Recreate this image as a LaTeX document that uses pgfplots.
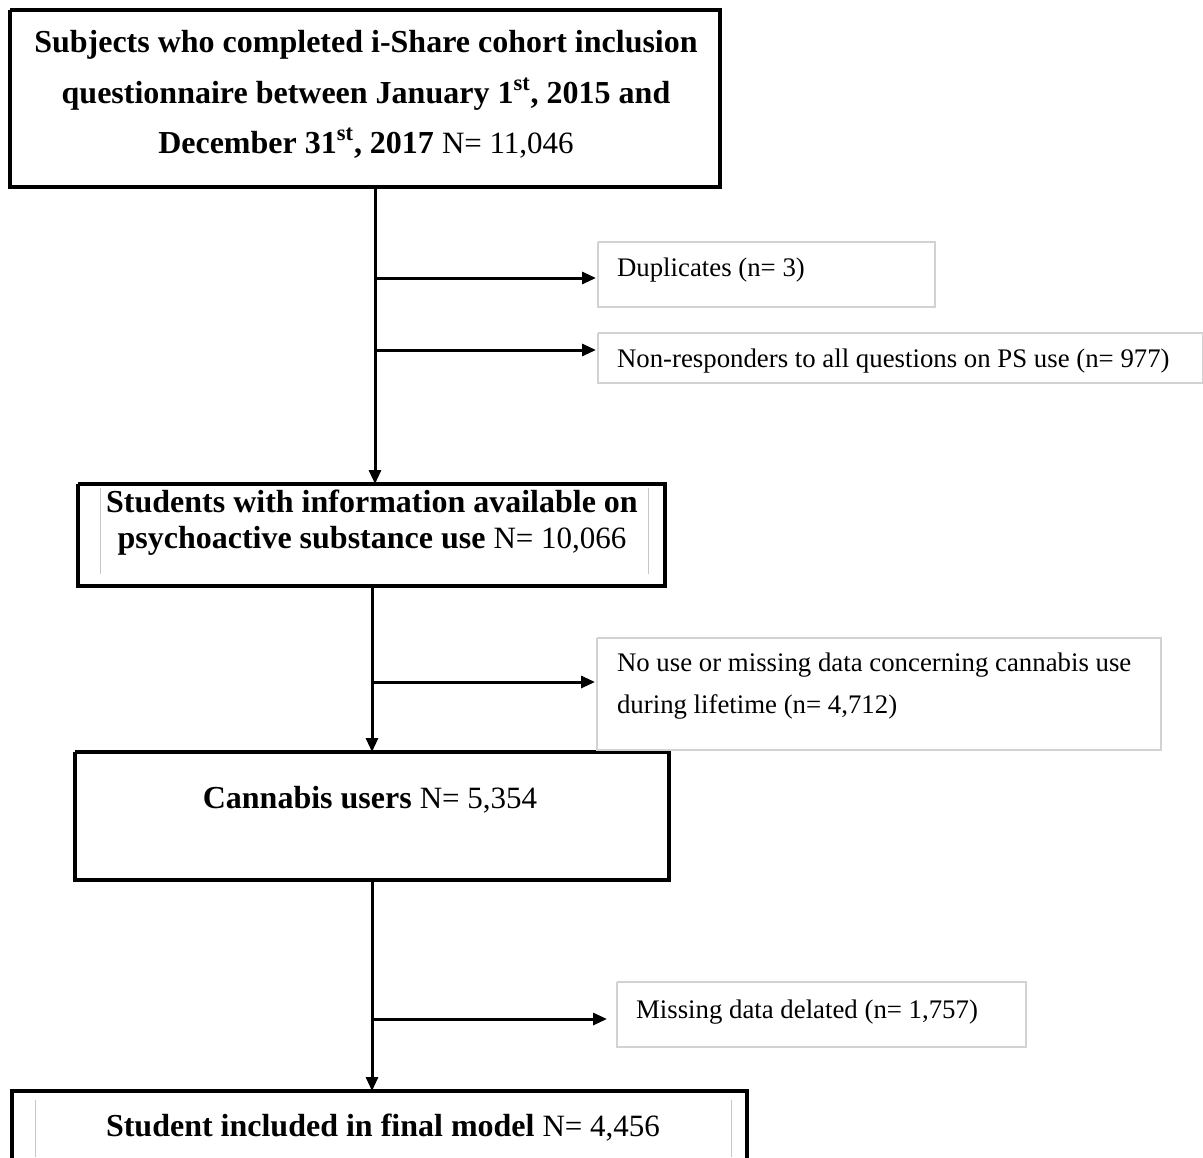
\documentclass[border=0pt]{standalone}
\usepackage{pgfplots}
\pgfplotsset{compat=1.18}
\usetikzlibrary{arrows.meta}
\usepackage{fontspec}
\setmainfont{Liberation Serif}

\newcommand{\bt}{\fontsize{16}{19}\selectfont\bfseries}
\newcommand{\nt}{\fontsize{15.5}{19}\selectfont\mdseries}
\newcommand{\st}{\fontsize{13.4}{16}\selectfont}

\begin{document}
\begin{tikzpicture}
\begin{axis}[
    name=ax,
    width=601.5pt, height=578.5pt,
    scale only axis,
    xmin=0, xmax=1203,
    ymin=0, ymax=1157,
    y dir=reverse,
    axis lines=none,
    clip=false,
    ticks=none,
]
% main boxes (thick)
\addplot[black, line width=2pt, line join=miter, mark=none] coordinates {(10,10) (720,10) (720,187) (10,187) (10,10)};
\addplot[black, line width=2pt, line join=miter, mark=none] coordinates {(78,484) (665,484) (665,586) (78,586) (78,484)};
\addplot[black, line width=2pt, line join=miter, mark=none] coordinates {(75,752) (669,752) (669,880) (75,880) (75,752)};
\addplot[black, line width=2pt, line join=miter, mark=none] coordinates {(12,1165) (12,1091) (747,1091) (747,1165)};

% inner thin lines
\addplot[gray!45, line width=0.5pt, mark=none] coordinates {(100,488) (100,574)};
\addplot[gray!45, line width=0.5pt, mark=none] coordinates {(648,488) (648,574)};
\addplot[gray!45, line width=0.5pt, mark=none] coordinates {(35,1100) (35,1157)};
\addplot[gray!45, line width=0.5pt, mark=none] coordinates {(731,1100) (731,1157)};

% side boxes (thin grey)
\addplot[gray!35, line width=0.6pt, mark=none] coordinates {(598,242) (935,242) (935,307) (598,307) (598,242)};
\addplot[gray!35, line width=0.6pt, mark=none] coordinates {(598,333) (1203,333) (1203,383) (598,383) (598,333)};
\addplot[gray!35, line width=0.6pt, mark=none] coordinates {(597,638) (1161,638) (1161,750) (597,750) (597,638)};
\addplot[gray!35, line width=0.6pt, mark=none] coordinates {(617,982) (1026,982) (1026,1047) (617,1047) (617,982)};

% vertical flow arrows
\addplot[black, line width=1.5pt, mark=none, -{Triangle[length=7pt,width=6pt]}] coordinates {(375,187) (375,484)};
\addplot[black, line width=1.5pt, mark=none, -{Triangle[length=7pt,width=6pt]}] coordinates {(372,586) (372,752)};
\addplot[black, line width=1.5pt, mark=none, -{Triangle[length=7pt,width=6pt]}] coordinates {(372,880) (372,1091)};

% horizontal exclusion arrows
\addplot[black, line width=1.5pt, mark=none, -{Triangle[length=7pt,width=6pt]}] coordinates {(375,278) (596,278)};
\addplot[black, line width=1.5pt, mark=none, -{Triangle[length=7pt,width=6pt]}] coordinates {(375,350) (596,350)};
\addplot[black, line width=1.5pt, mark=none, -{Triangle[length=7pt,width=6pt]}] coordinates {(372,682) (595,682)};
\addplot[black, line width=1.5pt, mark=none, -{Triangle[length=7pt,width=6pt]}] coordinates {(372,1019) (607,1019)};

% texts
\node at (axis cs:366,45) {\bt Subjects who completed i-Share cohort inclusion};
\node at (axis cs:366,94) {\bt questionnaire between January 1\textsuperscript{st}, 2015 and};
\node at (axis cs:366,143) {\bt December 31\textsuperscript{st}, 2017 \nt N= 11,046};

\node[anchor=west] at (axis cs:610,270) {\st Duplicates (n= 3)};
\node[anchor=west] at (axis cs:610,361) {\st Non-responders to all questions on PS use (n= 977)};

\node at (axis cs:372,501) {\bt Students with information available on};
\node at (axis cs:372,541) {\bt psychoactive substance use \nt N= 10,066};

\node[anchor=west] at (axis cs:610,665) {\st No use or missing data concerning cannabis use};
\node[anchor=west] at (axis cs:610,707) {\st during lifetime (n= 4,712)};

\node at (axis cs:370,800) {\bt Cannabis users \nt N= 5,354};

\node[anchor=west] at (axis cs:629,1012) {\st Missing data delated (n= 1,757)};

\node at (axis cs:383,1128) {\bt Student included in final model \nt N= 4,456};
\end{axis}
\pgfresetboundingbox
\useasboundingbox (ax.south west) rectangle (ax.north east);
\end{tikzpicture}
\end{document}
